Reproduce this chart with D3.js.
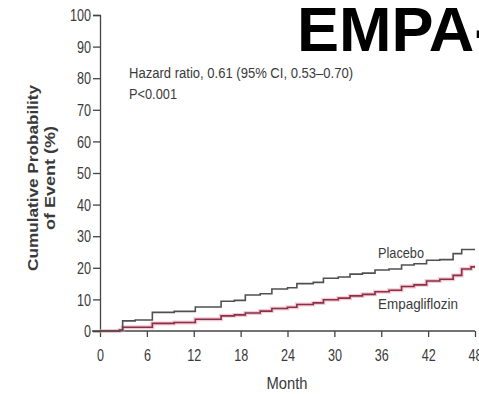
<!DOCTYPE html>
<html>
<head>
<meta charset="utf-8">
<script src="https://cdn.jsdelivr.net/npm/d3@7"></script>
<style>
  body { margin: 0; background: #fff; }
  svg { display: block; }
</style>
</head>
<body>
<div id="chart"></div>
<script>
/*eslint-disable*/

// Kaplan-Meier style step data
const placeboMonths = [0, 2.5, 2.9, 4.5, 6.7, 9.5, 12.2, 15.5, 17.2, 18.6, 20.5, 22, 24, 25.2, 27.3, 28.6, 30.5, 32, 33.6, 35.2, 37, 38.6, 40.2, 41.8, 43.5, 45.2, 46.3, 48];
const placeboValues = [0, 0.3, 3.2, 3.5, 5.9, 6.2, 7.6, 9.4, 9.7, 11.4, 11.8, 13.3, 13.7, 15.0, 15.4, 16.7, 17.1, 18.0, 18.3, 19.3, 19.6, 20.9, 21.3, 22.4, 22.6, 24.5, 25.8, 25.8];

const empaMonths = [0, 2.5, 2.9, 6.7, 9.5, 12.2, 15.5, 17.2, 18.6, 20.5, 22, 24, 25.2, 27.3, 28.6, 30.5, 32, 33.6, 35.2, 37, 38.6, 40.2, 41.8, 43.5, 45.2, 46.3, 47.5, 48];
const empaValues = [0, 0.2, 1.2, 2.4, 2.7, 3.7, 4.8, 5.1, 5.7, 6.3, 7.1, 7.5, 8.4, 8.9, 9.9, 10.4, 11.1, 11.6, 12.4, 12.9, 14.1, 14.6, 15.8, 16.4, 17.6, 19.6, 20.3, 20.3];

const xTicks = [0, 6, 12, 18, 24, 30, 36, 42, 48];
const yTicks = [0, 10, 20, 30, 40, 50, 60, 70, 80, 90, 100];

const width = 479;
const height = 394;
const margin = { top: 15, left: 100, right: 4, bottom: 63 };

const svg = d3.select("#chart").append("svg")
  .attr("width", width)
  .attr("height", height);

const x = d3.scaleLinear().domain([0, 48]).range([margin.left, width - margin.right]);
const y = d3.scaleLinear().domain([0, 100]).range([height - margin.bottom, margin.top]);

const textColor = "#3a3a3a";
const font = "'Liberation Sans', Arial, sans-serif";

// big title, clipped by the right edge
svg.append("text")
  .attr("x", 297)
  .attr("y", 51)
  .style("font-family", font)
  .style("font-weight", "bold")
  .style("font-size", "63px")
  .style("fill", "#000")
  .text("EMPA-");

// axes
const yAxis = svg.append("g")
  .attr("transform", `translate(${margin.left},0)`)
  .call(d3.axisLeft(y).tickValues(yTicks).tickSize(7).tickPadding(2));

const xAxis = svg.append("g")
  .attr("transform", `translate(0,${y(0)})`)
  .call(d3.axisBottom(x).tickValues(xTicks).tickSize(6).tickPadding(13));

[xAxis, yAxis].forEach(a => {
  a.select(".domain").attr("stroke", "#444").attr("stroke-width", 1.3);
  a.selectAll(".tick line").attr("stroke", "#444").attr("stroke-width", 1.3);
  a.selectAll(".tick text")
    .style("font-family", font)
    .style("font-size", "16px")
    .style("fill", textColor)
    .attr("textLength", d => String(d).length * 7)
    .attr("lengthAdjust", "spacingAndGlyphs");
});
yAxis.selectAll(".tick text").attr("dy", "0.36em");
xAxis.select(".domain").attr("d", `M${x(0) - 8},0H${x(48)}`);

// y title
const yTitle = svg.append("text")
  .attr("transform", "translate(38,178) rotate(-90)")
  .attr("text-anchor", "middle")
  .style("font-family", font)
  .style("font-weight", "bold")
  .style("font-size", "15px")
  .style("fill", textColor);
yTitle.append("tspan").attr("x", 0).attr("y", 0)
  .attr("textLength", 186).attr("lengthAdjust", "spacingAndGlyphs")
  .text("Cumulative Probability");
yTitle.append("tspan").attr("x", 0).attr("y", 17)
  .attr("textLength", 104).attr("lengthAdjust", "spacingAndGlyphs")
  .text("of Event (%)");

// x title
svg.append("text")
  .attr("x", 287)
  .attr("y", 389)
  .attr("text-anchor", "middle")
  .style("font-family", font)
  .style("font-size", "17px")
  .style("fill", textColor)
  .attr("textLength", 41).attr("lengthAdjust", "spacingAndGlyphs")
  .text("Month");

// annotation
svg.append("text")
  .attr("x", 129).attr("y", 78)
  .style("font-family", font)
  .style("font-size", "15.5px")
  .style("fill", textColor)
  .attr("textLength", 224).attr("lengthAdjust", "spacingAndGlyphs")
  .text("Hazard ratio, 0.61 (95% CI, 0.53–0.70)");
svg.append("text")
  .attr("x", 129).attr("y", 99)
  .style("font-family", font)
  .style("font-size", "15.5px")
  .style("fill", textColor)
  .attr("textLength", 48).attr("lengthAdjust", "spacingAndGlyphs")
  .text("P<0.001");

// curves
const line = d3.line()
  .x(d => x(d[0]))
  .y(d => y(d[1]))
  .curve(d3.curveStepAfter);

const placebo = d3.zip(placeboMonths, placeboValues);
const empa = d3.zip(empaMonths, empaValues);

svg.append("path")
  .datum(empa)
  .attr("fill", "none")
  .attr("stroke", "#e8a9b8")
  .attr("stroke-width", 4)
  .attr("stroke-opacity", 0.6)
  .attr("d", line);

svg.append("path")
  .datum(empa)
  .attr("fill", "none")
  .attr("stroke", "#8e2f48")
  .attr("stroke-width", 1.6)
  .attr("d", line);

svg.append("path")
  .datum(placebo)
  .attr("fill", "none")
  .attr("stroke", "#505050")
  .attr("stroke-width", 1.6)
  .attr("d", line);

// series labels
svg.append("text")
  .attr("x", 378).attr("y", 258)
  .style("font-family", font)
  .style("font-size", "15px")
  .style("fill", textColor)
  .attr("textLength", 46).attr("lengthAdjust", "spacingAndGlyphs")
  .text("Placebo");
svg.append("text")
  .attr("x", 378).attr("y", 309)
  .style("font-family", font)
  .style("font-size", "15px")
  .style("fill", textColor)
  .attr("textLength", 80).attr("lengthAdjust", "spacingAndGlyphs")
  .text("Empagliflozin");
</script>
</body>
</html>
